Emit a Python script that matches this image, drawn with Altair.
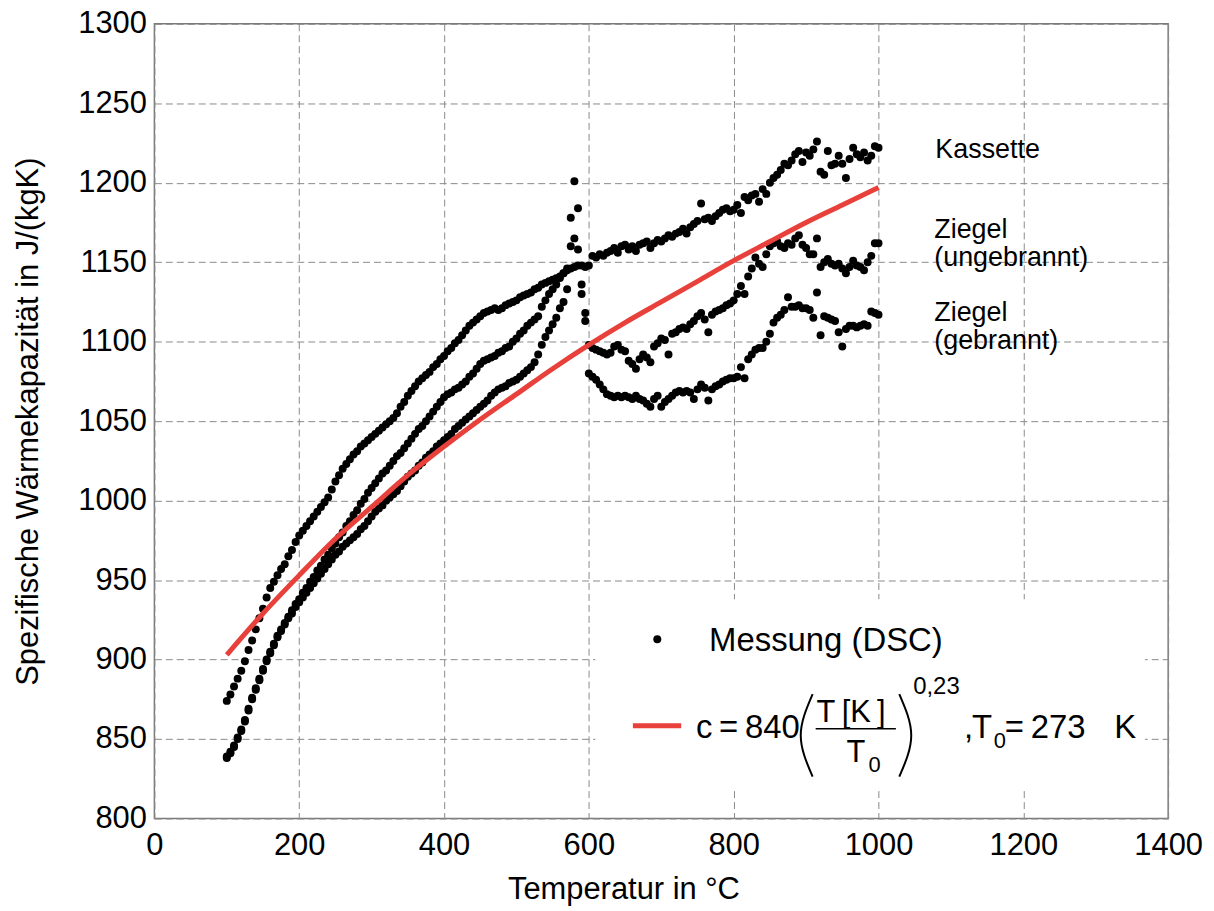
import altair as alt
import pandas as pd

# ---------------- data ----------------
temps = list(range(100, 1001, 5))  # measurement grid, degC

kassette = [
    874, 878, 883, 888, 893, 899, 906, 912, 919, 926, 932, 939, 945, 949, 953, 957, 960, 965, 969, 974,
    978, 981, 984, 987, 990, 993, 996, 999, 1002, 1007, 1012, 1016, 1020, 1023, 1026, 1029, 1031, 1034, 1036, 1038,
    1040, 1042, 1044, 1046, 1048, 1050, 1052, 1055, 1059, 1062, 1066, 1069, 1072, 1075, 1077, 1079, 1081, 1084, 1086, 1089,
    1091, 1094, 1096, 1099, 1101, 1104, 1107, 1110, 1112, 1114, 1116, 1118, 1119, 1120, 1121, 1120, 1121, 1123, 1124, 1125,
    1126, 1128, 1129, 1130, 1131, 1133, 1134, 1136, 1137, 1138, 1139, 1140, 1141, 1143, 1145, 1146, 1147, 1148, 1148, 1147,
    1148, 1154, 1153, 1155, 1154, 1156, 1157, 1159, 1156, 1160, 1161, 1158, 1160, 1157, 1161, 1162, 1163, 1159, 1162, 1164,
    1163, 1165, 1167, 1166, 1168, 1169, 1171, 1168, 1172, 1174, 1176, 1187, 1177, 1178, 1176, 1179, 1181, 1183, 1184, 1182,
    1183, 1186, 1181, 1191, 1189, 1192, 1193, 1188, 1196, 1193, 1200, 1203, 1205, 1208, 1212, 1211, 1214, 1218, 1220, 1213,
    1219, 1217, 1221, 1226, 1207, 1205, 1220, 1211, 1212, 1217, 1212, 1203, 1215, 1222, 1218, 1216, 1219, 1214, 1217, 1223,
    1222,
]

ziegel_ungebrannt = [
    839, 842, 846, 851, 856, 862, 869, 876, 882, 888, 894, 900, 905, 910, 915, 919, 923, 927, 931, 935,
    938, 942, 945, 949, 952, 956, 959, 963, 966, 970, 973, 977, 980, 984, 987, 991, 994, 998, 1001, 1005,
    1008, 1011, 1014, 1017, 1019, 1022, 1025, 1028, 1030, 1033, 1036, 1039, 1042, 1045, 1047, 1050, 1053, 1056, 1059, 1062,
    1065, 1067, 1068, 1070, 1071, 1073, 1075, 1078, 1080, 1083, 1086, 1088, 1089, 1090, 1091, 1093, 1094, 1096, 1097, 1100,
    1102, 1105, 1107, 1110, 1112, 1114, 1116, 1122, 1126, 1130, 1133, 1136, 1140, 1143, 1146, 1160, 1165, 1158, 1130, 1118,
    1098, 1096, 1095, 1094, 1093, 1092, 1093, 1097, 1098, 1095, 1094, 1088, 1086, 1083, 1089, 1092, 1090, 1087, 1097, 1099,
    1102, 1101, 1092, 1105, 1106, 1108, 1109, 1108, 1111, 1113, 1116, 1118, 1114, 1106, 1117, 1119, 1120, 1121, 1123, 1124,
    1126, 1130, 1135, 1130, 1141, 1146, 1153, 1149, 1147, 1155, 1160, 1162, 1163, 1160, 1159, 1162, 1161, 1165, 1167, 1161,
    1159, 1155, 1155, 1165, 1147, 1150, 1152, 1149, 1148, 1149, 1146, 1143, 1147, 1151, 1148, 1147, 1145, 1150, 1154, 1162,
    1162,
]

ziegel_gebrannt = [
    838, 841, 845, 850, 855, 861, 868, 875, 881, 887, 893, 899, 904, 909, 914, 918, 922, 926, 929, 933,
    936, 939, 942, 945, 948, 951, 954, 957, 960, 963, 966, 968, 971, 973, 975, 977, 979, 982, 984, 987,
    990, 993, 995, 997, 1000, 1002, 1004, 1006, 1009, 1012, 1015, 1017, 1019, 1022, 1024, 1027, 1029, 1031, 1034, 1036,
    1038, 1040, 1042, 1045, 1047, 1049, 1051, 1053, 1055, 1057, 1059, 1061, 1063, 1066, 1068, 1070, 1071, 1072, 1074, 1075,
    1076, 1078, 1080, 1082, 1084, 1087, 1092, 1098, 1103, 1107, 1111, 1115, 1121, 1125, 1133, 1178, 1201, 1184, 1136, 1113,
    1080, 1078, 1076, 1073, 1070, 1067, 1066, 1065, 1066, 1065, 1066, 1065, 1064, 1066, 1064, 1063, 1061, 1059, 1064, 1066,
    1059, 1062, 1064, 1066, 1068, 1069, 1068, 1069, 1068, 1064, 1070, 1073, 1071, 1063, 1070, 1072, 1073, 1075, 1076, 1077,
    1077, 1078, 1084, 1077, 1089, 1092, 1095, 1096, 1096, 1100, 1105, 1112, 1115, 1117, 1120, 1128, 1122, 1122, 1123, 1121,
    1121, 1120, 1115, 1131, 1104, 1116, 1115, 1114, 1113, 1106, 1097, 1108, 1110, 1110, 1109, 1110, 1111, 1110, 1119, 1118,
    1117,
]

# red fit curve, read at 50 degC steps
fit_T = [100, 150, 200, 250, 300, 350, 400, 450, 500, 550, 600, 650, 700, 750, 800, 850, 900, 950, 1000]
fit_c = [903, 929, 953, 976, 996, 1016, 1034, 1051, 1067, 1083, 1098, 1112, 1125, 1138, 1151, 1163, 1175, 1186, 1197]

x_ticks = [0, 200, 400, 600, 800, 1000, 1200, 1400]
y_ticks = [800, 850, 900, 950, 1000, 1050, 1100, 1150, 1200, 1250, 1300]

FONT = "Liberation Sans"
RED = "#e8403a"

# ---------------- tables ----------------
n = len(temps)
pts = pd.DataFrame({
    "T": temps * 3,
    "c": kassette + ziegel_ungebrannt + ziegel_gebrannt,
    "Serie": ["Kassette"] * n + ["Ziegel (ungebrannt)"] * n + ["Ziegel (gebrannt)"] * n,
})
fit = pd.DataFrame({"T": fit_T, "c": fit_c})

xs = alt.Scale(domain=[0, 1400], nice=False)
ys = alt.Scale(domain=[800, 1300], nice=False, zero=False)

x_axis = alt.Axis(values=x_ticks, format="d", title="Temperatur in °C", grid=True, gridDash=[7, 4],
                  gridColor="#8a8a8a", gridWidth=1, ticks=False, tickSize=0, domain=False,
                  labelFontSize=31, labelFont=FONT, labelColor="black", labelPadding=12,
                  labelFlush=False, labelOverlap=False, labelBound=False,
                  titleFontSize=31, titleFont=FONT, titleFontWeight="normal", titleColor="black",
                  titleX=471, titleY=80, titleBaseline="alphabetic")
y_axis = alt.Axis(values=y_ticks, format="d", title="Spezifische Wärmekapazität in J/(kgK)", grid=True,
                  gridDash=[7, 4], gridColor="#8a8a8a", gridWidth=1, ticks=False, tickSize=0,
                  domain=False, labelFontSize=31, labelFont=FONT, labelColor="black",
                  labelPadding=8, labelFlush=False, labelOverlap=False, labelBound=False,
                  titleFontSize=31, titleFont=FONT, titleFontWeight="normal", titleColor="black",
                  titleX=-126, titleBaseline="middle")

points = alt.Chart(pts).mark_circle(size=64, color="black", opacity=1).encode(
    x=alt.X("T:Q", scale=xs, axis=x_axis),
    y=alt.Y("c:Q", scale=ys, axis=y_axis),
    detail="Serie:N",
)

curve = alt.Chart(fit).mark_line(color=RED, strokeWidth=5, interpolate="monotone").encode(
    x=alt.X("T:Q", scale=xs), y=alt.Y("c:Q", scale=ys)
)

# legend box (white background covering the grid)
legend_box = pd.DataFrame({"x1": [609], "x2": [1368], "y1": [817.5], "y2": [938]})
box = alt.Chart(legend_box).mark_rect(fill="white").encode(
    x=alt.X("x1:Q", scale=xs), x2="x2:Q", y=alt.Y("y1:Q", scale=ys), y2="y2:Q"
)

leg_dot = alt.Chart(pd.DataFrame({"T": [694.5], "c": [912.8]})).mark_circle(
    size=64, color="black", opacity=1).encode(x=alt.X("T:Q", scale=xs), y=alt.Y("c:Q", scale=ys))

leg_line = alt.Chart(pd.DataFrame({"T": [660.8, 727.5], "c": [858.3, 858.3]})).mark_line(
    color=RED, strokeWidth=5).encode(x=alt.X("T:Q", scale=xs), y=alt.Y("c:Q", scale=ys))

# text annotations (positions in data units)
ann = pd.DataFrame([
    {"T": 1078.5, "c": 1215.4, "txt": "Kassette", "fs": 27},
    {"T": 1077.0, "c": 1165.3, "txt": "Ziegel", "fs": 27},
    {"T": 1077.0, "c": 1147.7, "txt": "(ungebrannt)", "fs": 27},
    {"T": 1077.0, "c": 1113.3, "txt": "Ziegel", "fs": 27},
    {"T": 1077.0, "c": 1095.7, "txt": "(gebrannt)", "fs": 27},
    {"T": 766.0, "c": 905.3, "txt": "Messung (DSC)", "fs": 33},
    {"T": 748.1, "c": 850.8, "txt": "c\u2009=\u2009840", "fs": 33},
    {"T": 914.5, "c": 860.8, "txt": "T\u2009[K\u2009]", "fs": 31},
    {"T": 955.8, "c": 835.7, "txt": "T", "fs": 31},
    {"T": 986.1, "c": 829.4, "txt": "0", "fs": 22},
    {"T": 1047.9, "c": 878.3, "txt": "0,23", "fs": 24},
    {"T": 1118.1, "c": 850.8, "txt": ",", "fs": 33},
    {"T": 1129.1, "c": 850.8, "txt": "T", "fs": 33},
    {"T": 1159.3, "c": 844.5, "txt": "0", "fs": 22},
    {"T": 1174.5, "c": 850.8, "txt": "\u2009=\u2009273", "fs": 33},
    {"T": 1325.7, "c": 850.8, "txt": "K", "fs": 33},
])
texts = alt.Chart(ann).mark_text(align="left", baseline="alphabetic", font=FONT, color="black").encode(
    x=alt.X("T:Q", scale=xs), y=alt.Y("c:Q", scale=ys), text="txt:N",
    size=alt.Size("fs:Q", scale=None),
)

frac = alt.Chart(pd.DataFrame({"T": [913.2], "T2": [1024.0], "c": [856.4]})).mark_rule(
    color="black", strokeWidth=1.5).encode(x=alt.X("T:Q", scale=xs), x2="T2:Q", y=alt.Y("c:Q", scale=ys))

parens = pd.DataFrame({
    "T": [909.0, 892.6, 909.0, 1028.7, 1045.2, 1028.7],
    "c": [878.3, 852.3, 826.3, 878.3, 852.3, 826.3],
    "o": [0, 1, 2, 0, 1, 2],
    "p": ["l", "l", "l", "r", "r", "r"],
})
paren = alt.Chart(parens).mark_line(color="black", strokeWidth=2, interpolate="natural").encode(
    x=alt.X("T:Q", scale=xs), y=alt.Y("c:Q", scale=ys), order="o:Q", detail="p:N")

chart = alt.layer(points, curve, box, leg_dot, leg_line, texts, frac, paren).properties(
    width=1018, height=798,
    padding={"left": 147, "top": 14, "right": 38, "bottom": 90},
    autosize=alt.AutoSizeParams(type="none"),
).configure(font=FONT).configure_view(stroke="#7a7a7a", strokeWidth=1.5, fill="white")

chart.save("out.html", embed_options={"renderer": "svg", "actions": False})
